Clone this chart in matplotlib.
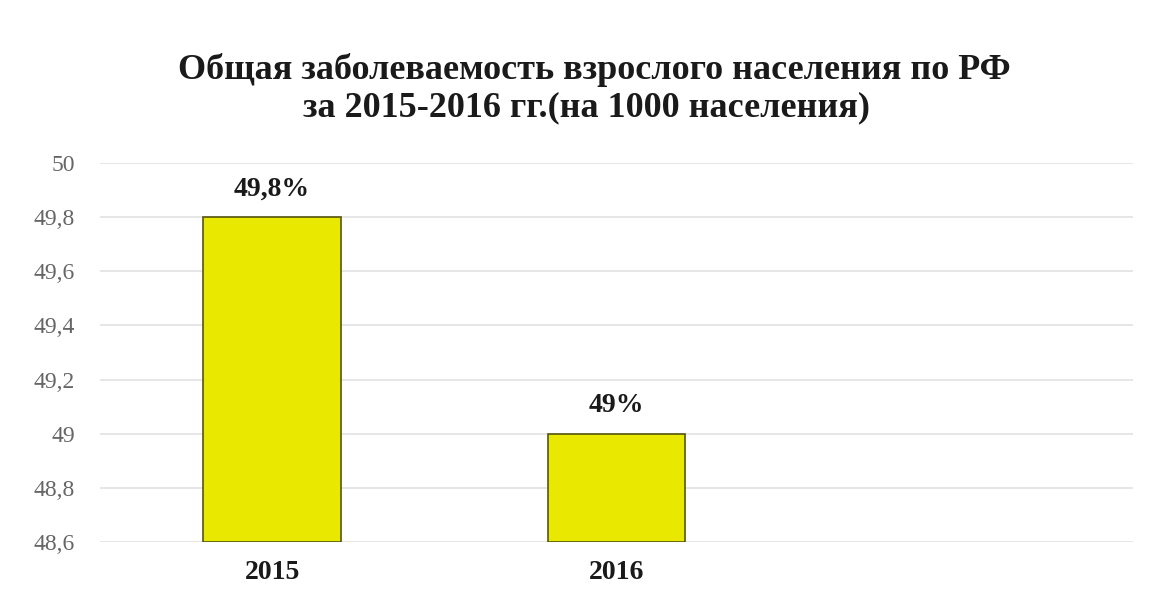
import matplotlib.pyplot as plt

years = ['2015', '2016', '']
values = [49.8, 49.0]
labels = ['49,8%', '49%']
yticks = [48.6, 48.8, 49.0, 49.2, 49.4, 49.6, 49.8, 50.0]
ytick_labels = ['48,6', '48,8', '49', '49,2', '49,4', '49,6', '49,8', '50']
ymin, ymax = 48.6, 50.0

plt.rcParams['font.family'] = ['Liberation Serif', 'DejaVu Serif']

fig = plt.figure(figsize=(11.6, 6.04), dpi=100)
ax = fig.add_axes([0.0862, 0.1026, 0.8905, 0.6275])

x = list(range(len(years)))
heights = [v - ymin for v in values]
bars = ax.bar(x[:len(values)], heights, bottom=ymin, width=0.4,
              color='#e8e800', edgecolor='#55550f', linewidth=1.2, zorder=3)

for b, lab in zip(bars, labels):
    ax.annotate(lab, (b.get_x() + b.get_width() / 2, b.get_y() + b.get_height()),
                xytext=(0, 11), textcoords='offset points', ha='center', va='bottom',
                fontsize=20, fontweight='bold', color='#1a1a1a')

ax.set_xlim(-0.5, 2.5)
ax.set_ylim(ymin, ymax)
ax.set_yticks(yticks)
ax.set_yticklabels(ytick_labels)
ax.set_xticks(x)
ax.set_xticklabels(years)
ax.tick_params(axis='y', length=0, pad=18, labelsize=17, labelcolor='#666666')
ax.tick_params(axis='x', length=0, pad=13, labelsize=20, labelcolor='#1a1a1a')
for t in ax.get_xticklabels():
    t.set_fontweight('bold')

ax.grid(axis='y', color='#e2e2e2', linewidth=1.2, zorder=0)
ax.set_axisbelow(True)
for s in ax.spines.values():
    s.set_visible(False)

# two-line title, baselines placed separately to keep the lines tight
fig.text(0.512, 1 - 79 / 604, 'Общая заболеваемость взрослого населения по РФ',
         ha='center', va='baseline', fontsize=26, fontweight='bold', color='#1a1a1a')
fig.text(0.506, 1 - 116 / 604, 'за 2015-2016 гг.(на 1000 населения)',
         ha='center', va='baseline', fontsize=26, fontweight='bold', color='#1a1a1a')

fig.savefig('out.png', dpi=100)
